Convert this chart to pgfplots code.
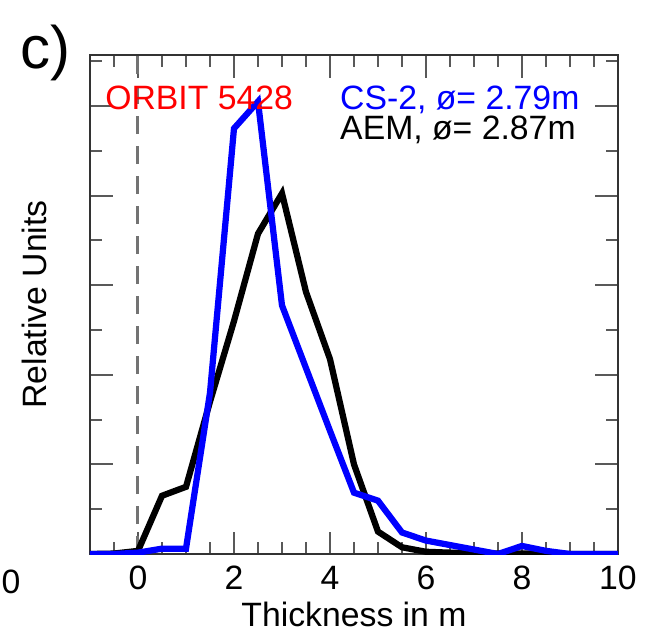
\documentclass[border=0pt]{standalone}
\usepackage{fontspec}
\setmainfont{Liberation Sans}
\usepackage{pgfplots}
\usepackage{pgfplotstable}
\pgfplotsset{compat=1.18}

% thickness histograms, y in relative units
\pgfplotstableread{
x    aem   cs
-1.0 0.00  0.00
-0.5 0.01  0.00
0.0  0.07  0.03
0.5  1.30  0.12
1.0  1.50  0.12
1.5  3.40  3.60
2.0  5.20  9.50
2.5  7.15  10.10
3.0  8.05  5.55
3.5  5.85  4.15
4.0  4.35  2.75
4.5  2.00  1.37
5.0  0.50  1.19
5.5  0.15  0.48
6.0  0.05  0.30
6.5  0.03  0.20
7.0  0.02  0.10
7.5  0.01  0.00
8.0  0.01  0.18
8.5  0.01  0.07
9.0  0.00  0.00
9.5  0.00  0.00
10.0 0.00  0.00
}\histdata

\begin{document}
\begin{tikzpicture}
\path[use as bounding box] (-36pt,-31.2pt) rectangle (224pt,221.6pt);
\begin{axis}[
  at={(0pt,0pt)}, anchor=south west,
  scale only axis, width=211.2pt, height=199.6pt,
  xmin=-1, xmax=10, ymin=0, ymax=11.14,
  xtick={0,2,...,10}, minor xtick={-0.5,0,...,10},
  ytick={2,4,...,10}, minor ytick={1,3,...,11},
  yticklabels={},
  tick align=inside,
  major tick length=9pt, minor tick length=4.8pt,
  tick style={black!65, line width=0.8pt},
  axis line style={black!80, line width=0.8pt},
  /pgf/number format/assume math mode=true,
  tick label style={font=\fontsize{13.5}{16}\selectfont},
  xticklabel style={yshift=-1.2pt},
  label style={font=\fontsize{13.5}{16}\selectfont},
  xlabel={Thickness in m},
  xlabel style={at={(axis description cs:0.5,-0.145)}, anchor=base},
  ylabel={Relative Units},
  ylabel style={at={(axis description cs:-0.106,0.5)}, anchor=center, rotate=0},
]
\addplot[black!55, line width=1.2pt, dash pattern=on 7.2pt off 4.8pt] coordinates {(0,0) (0,11.14)};
\addplot[black, line width=2.5pt] table[x=x, y=aem] {\histdata};
\addplot[blue, line width=2.5pt] table[x=x, y=cs] {\histdata};
\node[red, anchor=base west, inner sep=0pt, font=\fontsize{13.5}{16}\selectfont] at (rel axis cs:0.028,0.89) {ORBIT 5428};
\node[blue, anchor=base west, inner sep=0pt, font=\fontsize{13.5}{16}\selectfont] at (rel axis cs:0.473,0.89) {CS-2, ø= 2.79m};
\node[black, anchor=base west, inner sep=0pt, font=\fontsize{13.5}{16}\selectfont] at (rel axis cs:0.473,0.83) {AEM, ø= 2.87m};
\end{axis}
\node[anchor=base west, inner sep=0pt, font=\fontsize{24}{28}\selectfont] at (-28pt,194.4pt) {c)};
\node[anchor=base west, inner sep=0pt, font=\fontsize{13.5}{16}\selectfont] at (-35.6pt,-15.6pt) {0};
\end{tikzpicture}
\end{document}
